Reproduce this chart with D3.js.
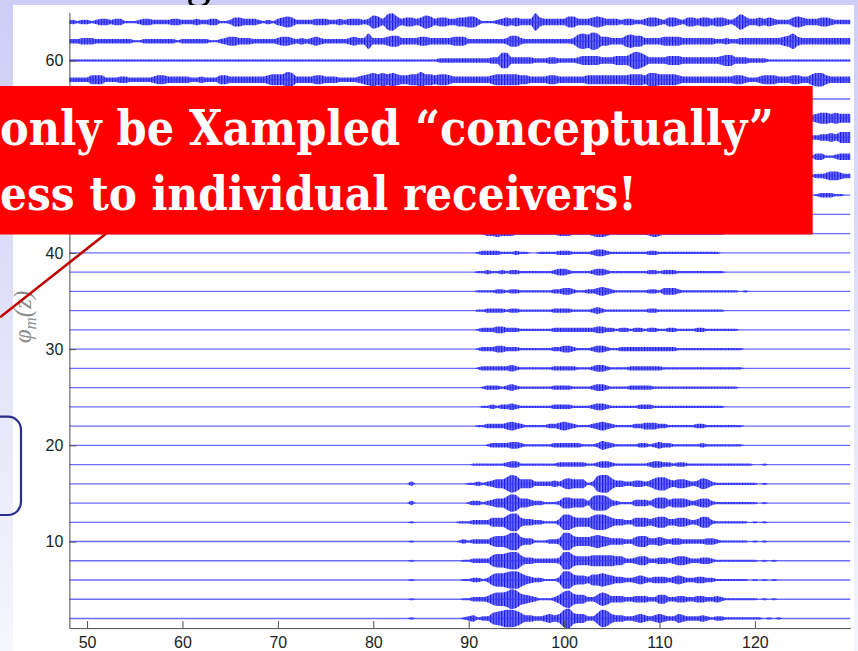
<!DOCTYPE html>
<html>
<head>
<meta charset="utf-8">
<script src="https://cdn.jsdelivr.net/npm/d3@7"></script>
<style>
  html, body { margin: 0; padding: 0; background: #fff; }
  svg { display: block; }
</style>
</head>
<body>
<svg id="chart" width="858" height="651"></svg>
<script>
// Receiver index m of each trace (vertical position of its zero line)
const traceRows = [64, 62, 60, 58, 56, 54, 52, 50, 48, 46, 44, 42, 40, 38, 36, 34, 32, 30, 28, 26, 24, 22, 20, 18, 16, 14, 12, 10, 8, 6, 4, 2];

// x of the first envelope sample of each trace
const traceFrom = [48, 48, 48, 48, 126, 126, 126, 126, 126, 126, 126, 48, 48, 48, 48, 48, 48, 48, 48, 48, 48, 48, 48, 48, 48, 48, 48, 48, 48, 48, 48, 48];

// Envelope level of each trace, one digit per half unit of x (groups of ten units)
const traceEnvelopes = [
  "12122123323311123322 22332223223311244333 21213454222233322323 33236537853443465344 33445531112343433384 33333553334543332332 23443244324434434432 47533434322245433344 32222",
  "22233322222222112222 22212222221123443332 22223443232343222223 43373334553333443333 34442222222235532222 22222236768744333565 53333444433333332232 23333333334574333333 33333",
  "11111111111111111111 11111111111111111111 11111111111111111111 11111111111111111122 22222222233773333322 23322223444433344468 75333344433333333455 33322221111111111111 11111",
  "22222444222332222234 43333322322244333333 33455576333344333222 23456565654455755455 43333333345555544333 34433333344444444455 54665555433333333333 44322344433344335664 33333",
  "000000000",
  "345545444",
  "223343555",
  "133112333",
  "122344322",
  "012221100",
  "000000000",
  "00000000000000000000 00000000000000000000 00000000000000000000 00000000000000000000 00000001223222111111 11122211112332111111 11232111111111111100 00000000000000000000 00000",
  "00000000000000000000 00000000000000000000 00000000000000000000 00000000000000000000 00000012222111211001 11122211112332111111 11221111111111111000 00000000000000000000 00000",
  "00000000000000000000 00000000000000000000 00000000000000000000 00000000000000000000 00000011211212211111 11233211112332111111 11221222111111111100 00000000000000000000 00000",
  "00000000000000000000 00000000000000000000 00000000000000000000 00000000000000000000 00000011112212211111 11223321122343211111 11221333211111111111 10100000000000000000 00000",
  "00000000000000000000 00000000000000000000 00000000000000000000 00000000000000000000 00000011222212211111 11222211112321111111 11221111111111111100 00000000000000000000 00000",
  "00000000000000000000 00000000000000000000 00000000000000000000 00000000000000000000 00000012223322211111 11222222222332212212 21221122111122111111 10000000000000000000 00000",
  "00000000000000000000 00000000000000000000 00000000000000000000 00000000000000000000 00000012223322211111 11223321112332112222 22222222111111111111 11000000000000000000 00000",
  "00000000000000000000 00000000000000000000 00000000000000000000 00000000000000000000 00000012222223211111 11222221112332111122 22222111111111111111 11000000000000000000 00000",
  "00000000000000000000 00000000000000000000 00000000000000000000 00000000000000000000 00000001222123211111 11222211112332111122 22211111111111111111 10000000000000000000 00000",
  "00000000000000000000 00000000000000000000 00000000000000000000 00000000000000000000 00000001121223211111 11222211112332111111 22211111111111111100 00000000000000000000 00000",
  "00000000000000000000 00000000000000000000 00000000000000000000 00000000000000000000 00000011222234321111 12234321112343211112 23332211111122111111 11000000000000000000 00000",
  "00000000000000000000 00000000000000000000 00000000000000000000 00000000000000000000 00000000122223321111 11222222111243211111 22123221111112111111 11000000000000000000 00000",
  "00000000000000000000 00000000000000000000 00000000000000000000 00000000000000000000 00000111111123311111 11122222211233211111 11233221221111111111 11110010000000000000 00000",
  "00000000000000000000 00000000000000000000 00000000000000000000 00000000000020000000 00001121234468744422 22324544412788533223 32356643443235421111 11111010000000000000 00000",
  "00000000000000000000 00000000000000000000 00000000000000000000 00000000000020000000 00001221234468744322 11125544426776321113 33245534443234421111 11111010000000000000 00000",
  "00000000000000000000 00000000000000000000 00000000000000000000 00000000000010000000 00111222244468843322 11137754446776433224 44345533443235521111 11101010000000000000 00000",
  "00000000000000000000 00000000000000000000 00000000000000000000 00000000000010000000 00121222245568843311 12238854445654333224 55334323322222332111 11101010000000000000 00000",
  "00000000000000000000 00000000000000000000 00000000000000000000 00000000000010000000 00011222256678853322 22238854445555544223 44223323443223321111 11111010100000000000 00000",
  "00000000000000000000 00000000000000000000 00000000000000000000 00000000000010000000 00011221256678864322 11138854435565433223 43233323432233221111 11101010100000000000 00000",
  "00000000000000000000 00000000000000000000 00000000000000000000 00000000000010000000 00011222356679854321 11247854422465333223 33224422332233223211 11111010100000000000 00000",
  "00000000000000000000 00000000000000000000 00000000000000000000 00000000000010000000 00012312256788753322 34348954422587433223 43234322432223212211 11111101010000000000 00000"
];

const xTicks = [50, 60, 70, 80, 90, 100, 110, 120];
const yTicks = [10, 20, 30, 40, 60];
const yLabelMain = "φ";
const yLabelSub = "m";
const yLabelTail = "(z)";
const bannerLines = ["only be Xampled “conceptually”", "ess to individual receivers!"];
const titleGlyph = "g";

const W = 858, H = 651;
const levelStep = 0.115;   // y units per envelope level

const svg = d3.select("#chart");
const defs = svg.append("defs");

// slide background
const bg = defs.append("linearGradient").attr("id", "slideBg")
  .attr("x1", 0).attr("y1", 0).attr("x2", 0).attr("y2", 1);
bg.append("stop").attr("offset", 0).attr("stop-color", "#cdcdf6");
bg.append("stop").attr("offset", 1).attr("stop-color", "#f6f6fd");
svg.append("rect").attr("width", W).attr("height", H).attr("fill", "url(#slideBg)");

svg.append("text")
  .attr("x", 186).attr("y", -4)
  .attr("font-family", "Liberation Serif").attr("font-size", 50)
  .attr("fill", "#000").text(titleGlyph);

// figure panel
svg.append("rect").attr("x", 13).attr("y", 5).attr("width", 841).attr("height", H - 5).attr("fill", "#fff");

const x = d3.scaleLinear().domain([48.15, 130]).range([69.4, 850.3]);
const y = d3.scaleLinear().domain([1, 65]).range([628.1, 12.4]);

defs.append("clipPath").attr("id", "plotClip")
  .append("rect").attr("x", x(48.15)).attr("y", 0)
  .attr("width", x(130) - x(48.15) + 1).attr("height", y(1));

// oscillation texture inside the envelopes
const pat = defs.append("pattern").attr("id", "wiggle")
  .attr("patternUnits", "userSpaceOnUse").attr("width", 2.8).attr("height", 8);
pat.append("rect").attr("width", 2.8).attr("height", 8).attr("fill", "#6a6aff");
pat.append("rect").attr("width", 1.2).attr("height", 8).attr("fill", "#0000e6");

const traces = traceRows.map((m, k) => {
  const levels = traceEnvelopes[k].replace(/\s+/g, "").split("").map(Number);
  return { m, pts: levels.map((L, i) => ({ v: traceFrom[k] + i * 0.5, a: L * levelStep })) };
});

const plot = svg.append("g").attr("clip-path", "url(#plotClip)");

traces.forEach(t => {
  const area = d3.area()
    .curve(d3.curveMonotoneX)
    .x(d => x(d.v))
    .y0(d => y(t.m - d.a))
    .y1(d => y(t.m + d.a));
  const line = d3.line()
    .x(d => x(d.v))
    .y(() => y(t.m));
  plot.append("path").datum(t.pts)
    .attr("d", area)
    .attr("fill", "url(#wiggle)")
    .attr("fill-opacity", 0.92);
  plot.append("path").datum(t.pts)
    .attr("d", line)
    .attr("fill", "none")
    .attr("stroke", "#3b3bff").attr("stroke-width", 1.3).attr("stroke-opacity", 0.75);
});

// axes
const axisColor = "#4d4d4d";
const gx = svg.append("g").attr("transform", `translate(0,${y(1)})`)
  .call(d3.axisBottom(x).tickValues(xTicks).tickSize(-7).tickSizeOuter(0).tickPadding(9));
const gy = svg.append("g").attr("transform", `translate(${x(48.15)},0)`)
  .call(d3.axisLeft(y).tickValues(yTicks).tickSize(-7).tickSizeOuter(0).tickPadding(6));
[gx, gy].forEach(g => {
  g.selectAll("path, line").attr("stroke", axisColor).attr("stroke-width", 1);
  g.selectAll("text").attr("fill", "#222").attr("font-size", 16)
    .attr("font-family", "Liberation Sans, Arial, sans-serif");
});

// y axis label
const yl = svg.append("text")
  .attr("transform", "translate(31,317) rotate(-90)")
  .attr("text-anchor", "middle")
  .attr("font-family", "Liberation Serif").attr("font-style", "italic")
  .attr("font-size", 25).attr("fill", "#8c8c8c");
yl.append("tspan").text(yLabelMain);
yl.append("tspan").attr("font-size", 17).attr("dy", 5).text(yLabelSub);
yl.append("tspan").attr("dy", -5).text(yLabelTail);

// annotation pointer and callout outline
svg.append("line")
  .attr("x1", 0).attr("y1", 317.3).attr("x2", 130).attr("y2", 214.7)
  .attr("stroke", "#c00000").attr("stroke-width", 2.6);
svg.append("rect")
  .attr("x", -30).attr("y", 416.7).attr("width", 51).attr("height", 98.3)
  .attr("rx", 13).attr("fill", "none")
  .attr("stroke", "#2b2d8c").attr("stroke-width", 2.2);

// red banner
svg.append("rect").attr("x", -5).attr("y", 86).attr("width", 817.7).attr("height", 148.5).attr("fill", "#ff0000");
const bannerTargets = [774, 637];
const bannerBase = [145, 210];
bannerLines.forEach((s, i) => {
  const t = svg.append("text")
    .attr("x", 0).attr("y", bannerBase[i])
    .attr("font-family", "DejaVu Serif").attr("font-weight", "bold")
    .attr("font-stretch", "condensed")
    .attr("font-size", 56).attr("fill", "#fff").text(s);
  const w = t.node().getComputedTextLength();
  if (w > 0) t.attr("font-size", 56 * bannerTargets[i] / w);
});
</script>
</body>
</html>
